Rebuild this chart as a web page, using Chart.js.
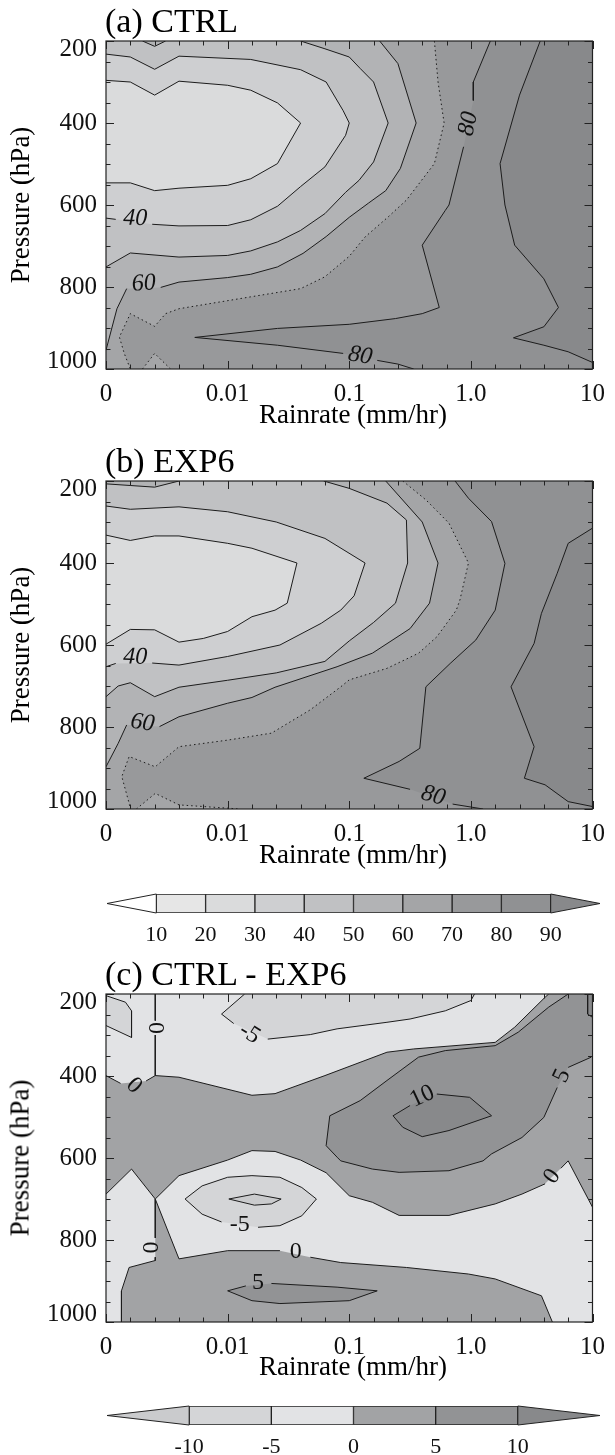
<!DOCTYPE html>
<html>
<head>
<meta charset="utf-8">
<script src="https://cdn.jsdelivr.net/npm/chart.js@4.4.0/dist/chart.umd.min.js"></script>
<style>
  body { margin: 0; background: #fff; width: 615px; height: 1455px; position: relative; overflow: hidden;
         font-family: "Liberation Serif", "Times New Roman", serif; color: #000; }
  canvas { position: absolute; left: 0; }
  .ttl { position: absolute; left: 105px; font-size: 34px; line-height: 34px; white-space: nowrap; }
  .xt { position: absolute; left: 353px; font-size: 27px; line-height: 27px; white-space: nowrap;
        transform: translateX(-50%); }
  .yt { position: absolute; left: 20px; font-size: 27px; line-height: 27px; white-space: nowrap;
        transform: translate(-50%, -50%) rotate(-90deg); }
</style>
</head>
<body>
<canvas id="pa" width="615" height="440" style="top:0px"></canvas>
<canvas id="pb" width="615" height="440" style="top:440px"></canvas>
<canvas id="cb1" width="615" height="70" style="top:880px"></canvas>
<canvas id="pc" width="615" height="440" style="top:953px"></canvas>
<canvas id="cb2" width="615" height="63" style="top:1392px"></canvas>

<div class="ttl" style="top:4px">(a) CTRL</div>
<div class="ttl" style="top:444px">(b) EXP6</div>
<div class="ttl" style="top:957px">(c) CTRL - EXP6</div>
<div class="xt" style="top:401px">Rainrate (mm/hr)</div>
<div class="xt" style="top:841px">Rainrate (mm/hr)</div>
<div class="xt" style="top:1353px">Rainrate (mm/hr)</div>
<div class="yt" style="top:205px">Pressure (hPa)</div>
<div class="yt" style="top:645px">Pressure (hPa)</div>
<div class="yt" style="top:1158px">Pressure (hPa)</div>

<script>
// axes: x is the rainrate tick index (0 .. 4 = 0, 0.01, 0.1, 1.0, 10), y is pressure in hPa
const xTickVals = [0, 1, 2, 3, 4];
const xTickLabels = ['0', '0.01', '0.1', '1.0', '10'];
const yTickVals = [200, 400, 600, 800, 1000];

// colour scales
const absBounds = [10, 20, 30, 40, 50, 60, 70, 80, 90];
const absColors = ['#ffffff', '#e6e6e6', '#dadbdc', '#cecfd1', '#c0c1c3', '#b2b3b5', '#a4a5a7', '#98999b', '#909193', '#88898b'];
const diffBounds = [-10, -5, 0, 5, 10];
const diffColors = ['#cacbcd', '#d4d5d7', '#e2e3e5', '#a2a3a5', '#929395', '#88898b'];

// (a) CTRL contours, [x, hPa]; null = gap for a label
const aC30 = [[0,296],[0.2,300],[0.4,332],[0.6,298],[1.0,308],[1.19,320],[1.41,351],[1.6,400],[1.41,499],[1.19,536],[1.0,552],[0.6,559],[0.4,565],[0.2,546],[0,546]];
const aC40 = [[0,232],[0.2,239],[0.4,269],[0.6,237],[1.19,245],[1.6,270],[1.81,300],[1.95,370],[2.0,400],[1.97,430],[1.8,507],[1.6,555],[1.41,603],[1.19,636],[1.0,650],[0.6,651],[0.38,647],null,[0.08,635],[0,632]];
const aC50a = [[0.30,200],[0.40,213],[0.49,200]];
const aC50 = [[1.6,200],[1.8,219],[2.0,239],[2.09,267],[2.2,300],[2.32,400],[2.2,495],[2.08,540],[1.97,569],[1.8,621],[1.6,662],[1.41,690],[1.19,712],[1.0,723],[0.6,727],[0.2,717],[0,751]];
const aC60 = [[2.25,200],[2.40,255],[2.55,400],[2.42,511],[2.3,565],[2.16,595],[2.0,630],[1.81,677],[1.62,718],[1.41,751],[1.19,769],[1.0,777],[0.6,788],[0.45,801],null,[0.17,804],[0.09,853],[0,954]];
const aC70 = [[2.70,200],[2.73,300],[2.78,400],[2.70,499],[2.47,588],[2.32,629],[2.13,678],[2.0,725],[1.8,775],[1.6,804],[1.19,824],[0.6,853],[0.49,865],[0.4,896],[0.2,865],[0.11,922],[0.15,962],[0.2,1000]];
const aC70b = [[0.3,1000],[0.4,962],[0.53,1000]];
const aC80 = [[3.16,200],[3.02,300],[3.02,345],null,[2.94,458],[2.82,600],[2.79,613],[2.6,698],[2.74,850],[2.6,865],[2.38,877],[2.0,891],[1.41,901],[0.73,923],[1.41,942],[1.95,962],null,[2.23,979],[2.4,988],[2.53,1000]];
const aC90 = [[3.57,200],[3.40,332],[3.24,499],[3.28,600],[3.36,698],[3.6,780],[3.72,850],[3.6,897],[3.35,924],[3.6,942],[3.8,958],[4.0,984]];

// (b) EXP6 contours
const bC30 = [[0,332],[0.2,345],[0.4,334],[0.6,334],[1.0,352],[1.2,364],[1.57,400],[1.49,498],[1.39,515],[1.2,531],[1.0,567],[0.8,584],[0.6,593],[0.4,563],[0.2,562],[0,598]];
const bC40 = [[0,261],[0.2,269],[0.6,263],[1.0,275],[1.4,300],[1.8,340],[2.13,400],[2.04,480],[1.93,515],[1.77,547],[1.43,600],[1.0,628],[0.6,649],[0.38,644],null,[0.08,645],[0,653]];
const bC50a = [[0,207],[0.2,211],[0.4,215],[0.6,200]];
const bC50 = [[1.79,200],[2.0,218],[2.31,254],[2.47,295],[2.48,400],[2.38,498],[2.2,545],[2.0,590],[1.8,640],[1.4,668],[1.0,686],[0.6,703],[0.4,726],[0.2,692],[0.1,700],[0,726]];
const bC60 = [[2.3,200],[2.6,300],[2.73,400],[2.66,498],[2.5,560],[2.19,620],[1.9,653],[1.39,703],[1.2,728],[1.0,742],[0.6,775],[0.44,799],null,[0.17,795],[0.1,840],[0,897]];
const bC70 = [[2.44,200],[2.63,246],[2.82,303],[2.98,400],[2.91,490],[2.88,515],[2.72,580],[2.57,620],[2.31,657],[2.0,685],[1.93,702],[1.68,758],[1.36,815],[1.0,832],[0.6,848],[0.405,897],[0.19,872],[0.13,921],[0.19,986],[0.2,1000]];
const bC70b = [[0.25,1000],[0.405,962],[0.6,990],[1.0,998],[1.1,1000]];
const bC80 = [[2.87,200],[2.98,242],[3.17,299],[3.28,401],[3.2,515],[3.04,588],[2.83,645],[2.63,702],[2.58,852],[2.41,884],[2.12,925],[2.5,952],null,[2.85,988],[3.1,1000]];
const bC90 = [[4,315],[3.8,352],[3.71,425],[3.58,523],[3.52,596],[3.33,702],[3.52,848],[3.44,925],[3.61,941],[3.8,982],[4,994]];

// (c) CTRL - EXP6 contours
const cIsland = [[0,204],[0.16,220],[0.21,241],[0.21,306],[0,277]];
const cZeroV = [[0.405,200],[0.405,265],null,[0.405,300],[0.405,399]];
const cZeroTop = [[0,399],[0.12,418],null,[0.33,412],[0.405,399],[0.6,403],[1.2,447],[1.39,443],[1.8,399],[2.31,342],[2.53,334],[3.2,318],[3.36,281],[3.61,208],[3.64,200]];
const cM5Top = [[1.14,200],[0.95,249],[1.05,272],null,[1.33,310],[1.68,299],[1.9,285],[2.31,269],[2.5,261],[2.79,241],[3.0,216],[3.03,200]];
const cP5 = [[3.80,200],[3.64,232],[3.39,293],[3.2,326],[2.79,338],[2.57,354],[2.31,411],[2.09,460],[1.84,497],[1.81,570],[1.9,598],[1.93,607],[2.19,627],[2.41,635],[2.82,631],[3.10,607],[3.17,590],[3.42,550],[3.6,501],[3.71,428],null,[3.8,379],[3.99,354]];
const cP10 = [[2.36,497],[2.5,472],null,[2.72,444],[2.99,452],[3.17,497],[2.82,533],[2.6,548],[2.44,525],[2.36,497]];
const cCorner = [[3.96,200],[3.96,249],[4,257]];
const cZeroL = [[0,688],[0.21,627],[0.405,700]];
const cZeroLV = [[0.405,700],[0.405,795],null,[0.405,842],[0.405,850],[0.19,867],[0.127,924],[0.127,1000]];
const cZeroMidUp = [[0.405,700],[0.6,643],[1.0,605],[1.2,582],[1.39,584],[1.6,605],[1.81,636],[2.0,692],[2.19,708],[2.41,740],[2.82,740],[3.2,712],[3.42,688],[3.61,663],null,[3.74,625],[3.80,607],[4.0,720]];
const cZeroMidLo = [[0.405,700],[0.6,846],[1.0,826],[1.43,826],null,[1.68,842],[1.93,855],[2.47,867],[2.98,883],[3.2,895],[3.58,936],[3.67,1000]];
const cM5Oval = [[0.65,700],[0.79,668],[1.0,647],[1.2,643],[1.43,647],[1.61,672],[1.73,700],[1.61,741],[1.43,765],[1.25,769],null,[0.95,756],[0.79,737],[0.65,700]];
const cM10Oval = [[1.01,700],[1.22,688],[1.44,700],[1.36,712],[1.22,715],[1.01,700]];
const cP5Low = [[1.0,924],[1.15,912],null,[1.36,906],[1.9,915],[2.23,924],[2.0,948],[1.43,955],[1.2,948],[1.0,924]];

const FONT = '"Liberation Serif", "Times New Roman", serif';
const frame = [[0,200],[4,200],[4,1000],[0,1000]];

function clean(a) { return a.filter(p => p); }
function segs(a) {
  const out = [[]];
  a.forEach(p => { if (p) out[out.length - 1].push(p); else out.push([]); });
  return out.filter(s => s.length > 1);
}

function makePanel(id, lines, fills, labels, italic) {
  const datasets = [];
  lines.forEach(l => segs(l.pts).forEach(s => datasets.push({
    data: s.map(([x, y]) => ({ x, y })),
    showLine: true, pointRadius: 0, borderWidth: 1, borderColor: '#1c1c1c',
    borderDash: l.dot ? [1.5, 3] : [], tension: 0, fill: false
  })));

  const contour = {
    id: 'contour',
    beforeDatasetsDraw(chart) {
      const { ctx, chartArea: a, scales: { x, y } } = chart;
      ctx.save();
      ctx.beginPath(); ctx.rect(a.left, a.top, a.width, a.height); ctx.clip();
      fills.forEach(f => {
        ctx.beginPath();
        clean(f.pts).forEach(([u, p], i) => {
          const px = x.getPixelForValue(u), py = y.getPixelForValue(p);
          if (i) ctx.lineTo(px, py); else ctx.moveTo(px, py);
        });
        ctx.closePath();
        ctx.fillStyle = f.color;
        ctx.fill();
      });
      ctx.restore();
    },
    afterDatasetsDraw(chart) {
      const { ctx, chartArea: a, scales: { x, y } } = chart;
      ctx.save();
      // contour labels
      ctx.fillStyle = '#111';
      ctx.font = (italic ? 'italic ' : '') + '24px ' + FONT;
      ctx.textAlign = 'center'; ctx.textBaseline = 'middle';
      labels.forEach(l => {
        ctx.save();
        ctx.translate(x.getPixelForValue(l.at[0]), y.getPixelForValue(l.at[1]));
        ctx.rotate(l.rot * Math.PI / 180);
        ctx.fillText(l.t, 0, 0);
        ctx.restore();
      });
      // frame
      ctx.strokeStyle = '#222'; ctx.lineWidth = 1.2;
      ctx.strokeRect(a.left, a.top, a.width, a.height);
      // inward ticks on all four sides
      ctx.lineWidth = 1;
      ctx.beginPath();
      for (let v = 0; v <= 4.001; v += 0.2) {
        const px = Math.round(x.getPixelForValue(v)) + 0.5;
        const len = Math.abs(v - Math.round(v)) < 0.01 ? 8 : 4.5;
        ctx.moveTo(px, a.bottom); ctx.lineTo(px, a.bottom - len);
        ctx.moveTo(px, a.top); ctx.lineTo(px, a.top + len);
      }
      for (let p = 200; p <= 1000; p += 50) {
        const py = Math.round(y.getPixelForValue(p)) + 0.5;
        const len = p % 200 === 0 ? 8 : 4.5;
        ctx.moveTo(a.left, py); ctx.lineTo(a.left + len, py);
        ctx.moveTo(a.right, py); ctx.lineTo(a.right - len, py);
      }
      ctx.stroke();
      // pressure tick labels, end labels kept inside the axis span
      ctx.font = '25px ' + FONT;
      ctx.textAlign = 'right'; ctx.textBaseline = 'middle'; ctx.fillStyle = '#111';
      yTickVals.forEach(v => {
        let py = y.getPixelForValue(v);
        py = Math.min(Math.max(py, a.top + 8.5), a.bottom - 7.5);
        ctx.fillText(String(v), a.left - 9, py);
      });
      ctx.restore();
    }
  };

  return new Chart(document.getElementById(id), {
    type: 'scatter',
    data: { datasets },
    options: {
      responsive: false, animation: false, events: [],
      layout: { padding: { top: 41, right: 14, left: 0, bottom: 0 } },
      plugins: { legend: { display: false }, tooltip: { enabled: false } },
      scales: {
        x: {
          type: 'linear', min: 0, max: 4,
          afterBuildTicks: s => { s.ticks = xTickVals.map(v => ({ value: v })); },
          afterFit: s => { s.height = 71; },
          ticks: { callback: v => xTickLabels[v], color: '#111', font: { family: FONT, size: 25 },
                   padding: 10, maxRotation: 0, autoSkip: false },
          grid: { display: false, drawTicks: false }, border: { display: false }
        },
        y: {
          type: 'linear', min: 200, max: 1000, reverse: true,
          afterBuildTicks: s => { s.ticks = yTickVals.map(v => ({ value: v })); },
          afterFit: s => { s.width = 106; },
          ticks: { display: false },
          grid: { display: false, drawTicks: false }, border: { display: false }
        }
      }
    },
    plugins: [contour]
  });
}

// (a)
makePanel('pa',
  [{ pts: aC30 }, { pts: aC40 }, { pts: aC50a }, { pts: aC50 }, { pts: aC60 },
   { pts: aC70, dot: true }, { pts: aC70b, dot: true }, { pts: aC80 }, { pts: aC90 }],
  [{ color: absColors[9], pts: frame },
   { color: absColors[8], pts: [[0,200], ...aC90, [4,1000], [0,1000]] },
   { color: absColors[7], pts: [[0,200], ...aC80, [0,1000]] },
   { color: absColors[6], pts: [[0,200], ...aC70, [0,1000]] },
   { color: absColors[6], pts: aC70b },
   { color: absColors[5], pts: [[0,200], ...aC60] },
   { color: absColors[4], pts: [[0,200], ...aC50a, ...aC50] },
   { color: absColors[3], pts: aC40 },
   { color: absColors[2], pts: aC30 }],
  [{ t: '40', at: [0.24, 633], rot: 2 }, { t: '60', at: [0.31, 792], rot: -4 },
   { t: '80', at: [2.98, 402], rot: -79 }, { t: '80', at: [2.09, 968], rot: 10 }],
  true);

// (b)
makePanel('pb',
  [{ pts: bC30 }, { pts: bC40 }, { pts: bC50a }, { pts: bC50 }, { pts: bC60 },
   { pts: bC70, dot: true }, { pts: bC70b, dot: true }, { pts: bC80 }, { pts: bC90 }],
  [{ color: absColors[9], pts: frame },
   { color: absColors[8], pts: [[0,200], [4,200], ...bC90, [4,1000], [0,1000]] },
   { color: absColors[7], pts: [[0,200], ...bC80, [0,1000]] },
   { color: absColors[6], pts: [[0,200], ...bC70, [0,1000]] },
   { color: absColors[6], pts: bC70b },
   { color: absColors[5], pts: [[0,200], ...bC60] },
   { color: absColors[4], pts: [...bC50a, ...bC50] },
   { color: absColors[3], pts: bC40 },
   { color: absColors[2], pts: bC30 }],
  [{ t: '40', at: [0.24, 630], rot: 2 }, { t: '60', at: [0.3, 790], rot: 8 },
   { t: '80', at: [2.69, 968], rot: 15 }],
  true);

// (c)
makePanel('pc',
  [{ pts: cIsland }, { pts: cZeroV }, { pts: cZeroTop }, { pts: cM5Top }, { pts: cP5 }, { pts: cP10 },
   { pts: cCorner }, { pts: cZeroL }, { pts: cZeroLV }, { pts: cZeroMidUp }, { pts: cZeroMidLo },
   { pts: cM5Oval }, { pts: cM10Oval }, { pts: cP5Low }],
  [{ color: diffColors[3], pts: frame },
   { color: diffColors[2], pts: [...cZeroTop, [0,200]] },
   { color: diffColors[2], pts: [...cZeroL, ...cZeroLV, [0,1000]] },
   { color: diffColors[2], pts: [...cZeroMidUp, [4,1000], ...clean(cZeroMidLo).reverse()] },
   { color: diffColors[1], pts: cM5Top },
   { color: diffColors[1], pts: cIsland },
   { color: diffColors[1], pts: cM5Oval },
   { color: diffColors[0], pts: cM10Oval },
   { color: diffColors[4], pts: [...cP5, [4,200]] },
   { color: diffColors[4], pts: cP5Low },
   { color: diffColors[5], pts: cP10 },
   { color: diffColors[5], pts: [...cCorner, [4,200]] }],
  [{ t: '0', at: [0.405, 283], rot: 90 }, { t: '0', at: [0.23, 424], rot: 45 },
   { t: '-5', at: [1.18, 296], rot: 32 }, { t: '10', at: [2.6, 450], rot: -25 },
   { t: '5', at: [3.75, 400], rot: -65 }, { t: '0', at: [0.36, 818], rot: 90 },
   { t: '0', at: [1.56, 828], rot: 0 }, { t: '0', at: [3.67, 645], rot: -55 },
   { t: '-5', at: [1.1, 762], rot: 0 }, { t: '5', at: [1.25, 905], rot: 0 }],
  false);

// colour bars
function makeBar(id, bounds, colors, lo, hi) {
  const datasets = [];
  for (let i = 0; i < bounds.length - 1; i++) {
    datasets.push({ data: [[bounds[i], bounds[i + 1]]], backgroundColor: colors[i + 1],
      borderColor: '#222', borderWidth: 1, borderSkipped: false, grouped: false,
      barPercentage: 1, categoryPercentage: 1 });
  }
  const arrows = {
    id: 'arrows',
    afterDatasetsDraw(chart) {
      const { ctx, chartArea: a, scales: { x } } = chart;
      const mid = (a.top + a.bottom) / 2;
      const tri = (tip, base, col) => {
        ctx.beginPath();
        ctx.moveTo(x.getPixelForValue(base), a.top);
        ctx.lineTo(x.getPixelForValue(tip), mid);
        ctx.lineTo(x.getPixelForValue(base), a.bottom);
        ctx.closePath();
        ctx.fillStyle = col; ctx.fill();
        ctx.strokeStyle = '#222'; ctx.lineWidth = 1; ctx.stroke();
      };
      ctx.save();
      tri(lo, bounds[0], colors[0]);
      tri(hi, bounds[bounds.length - 1], colors[colors.length - 1]);
      ctx.restore();
    }
  };
  const h = document.getElementById(id).height;
  return new Chart(document.getElementById(id), {
    type: 'bar',
    data: { labels: [''], datasets },
    options: {
      indexAxis: 'y', responsive: false, animation: false, events: [],
      layout: { padding: { top: 14, left: 107, right: 15, bottom: 0 } },
      plugins: { legend: { display: false }, tooltip: { enabled: false } },
      scales: {
        x: { type: 'linear', min: lo, max: hi,
             afterBuildTicks: s => { s.ticks = bounds.map(v => ({ value: v })); },
             afterFit: s => { s.height = h - 33; },
             ticks: { color: '#111', font: { family: FONT, size: 22 }, padding: 9, maxRotation: 0, autoSkip: false },
             grid: { display: false, drawTicks: false }, border: { display: false } },
        y: { display: false }
      }
    },
    plugins: [arrows]
  });
}

makeBar('cb1', absBounds, absColors, 0, 100);
makeBar('cb2', diffBounds, diffColors, -15, 15);
</script>
</body>
</html>
